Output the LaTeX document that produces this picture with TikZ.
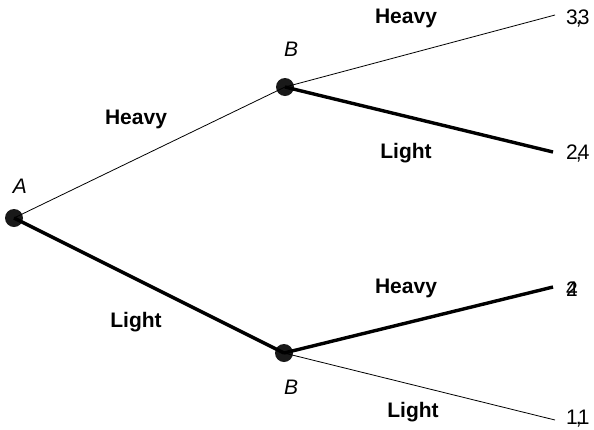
\documentclass[tikz,border=0pt]{standalone}
\usepackage{fontspec}
\setmainfont{Liberation Sans}
\begin{document}
\begin{tikzpicture}[x=1pt,y=-1pt,
  dot/.style={circle,fill=black!90,inner sep=0pt,minimum size=18pt},
  thin/.style={line width=0.8pt},
  thick/.style={line width=3.4pt},
  lab/.style={font=\fontsize{21}{24}\selectfont\bfseries},
  pay/.style={font=\fontsize{21}{24}\selectfont,anchor=west,inner sep=0pt},
  nm/.style={font=\fontsize{21}{24}\selectfont\itshape}]
\useasboundingbox (0,0) rectangle (594,429);
\node[dot] (A) at (14,218) {};
\node[dot] (B1) at (285,87) {};
\node[dot] (B2) at (284,353) {};
\coordinate (e1) at (555,15);
\coordinate (e2) at (553,152);
\coordinate (e3) at (553,287);
\coordinate (e4) at (555,420);
\draw[thin] (A.center) -- (B1.center);
\draw[thick] (A.center) -- (B2.center);
\draw[thin] (B1.center) -- (e1);
\draw[thick] (B1.center) -- (e2);
\draw[thick] (B2.center) -- (e3);
\draw[thin] (B2.center) -- (e4);
\node[nm] (nA) at (20,186) {A};
\node[nm] (nB1) at (291,49) {B};
\node[nm] (nB2) at (291,387) {B};
\node[lab] (l1) at (136,119) {Heavy};
\node[lab] (l2) at (136,322) {Light};
\node[lab] (l3) at (406,18) {Heavy};
\node[lab] (l4) at (406,153) {Light};
\node[lab] (l5) at (406,288) {Heavy};
\node[lab] (l6) at (413,412) {Light};
\node[pay] (p1) at (566,19) {3\rlap{\kern-2pt,}3};
\node[pay] (p2) at (566,154) {2\rlap{\kern-2pt,}4};
\node[pay] (p3) at (566,289) {\rlap{4}2};
\node[pay] (p4) at (566,419) {1\rlap{\kern-2pt,}1};
\end{tikzpicture}
\end{document}
